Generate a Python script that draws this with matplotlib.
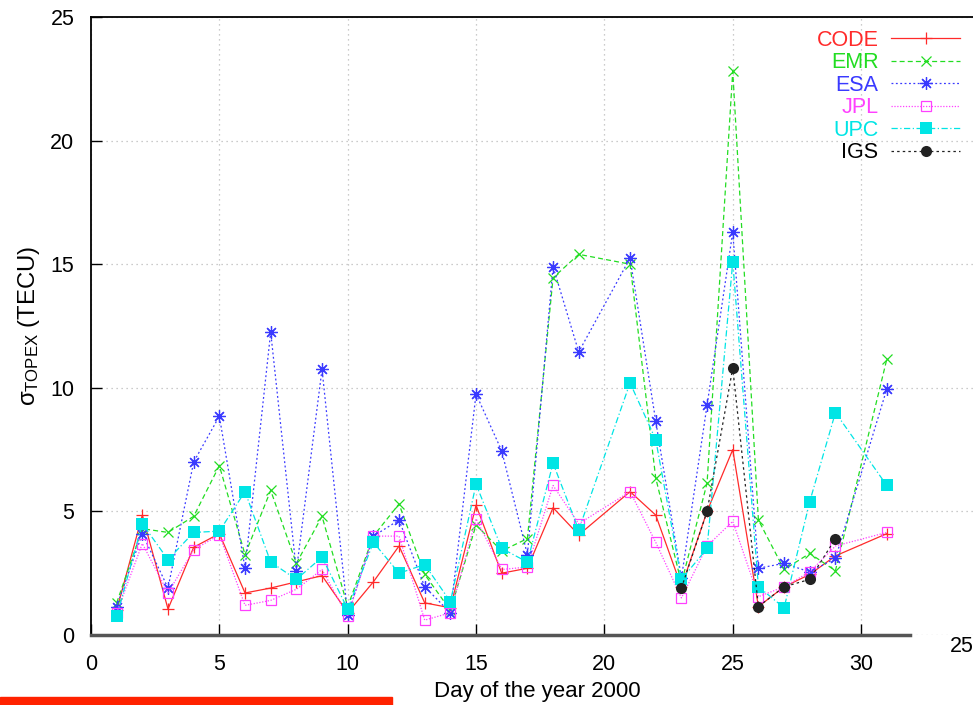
import matplotlib
matplotlib.use("Agg")
import matplotlib.pyplot as plt
from matplotlib.patches import Rectangle

plt.rcParams['font.family'] = ['Liberation Sans', 'DejaVu Sans']
plt.rcParams['mathtext.fontset'] = 'custom'
plt.rcParams['mathtext.rm'] = 'Liberation Sans'
plt.rcParams['mathtext.it'] = 'Liberation Sans'

# -------------------------------------
# Data
# -------------------------------------
days = [1, 2, 3, 4, 5, 6, 7, 8, 9, 10, 11, 12, 13, 14, 15, 16, 17, 18, 19,
        21, 22, 23, 24, 25, 26, 27, 28, 29, 31]

code = [1.0, 4.85, 1.05, 3.55, 4.1, 1.7, 1.9, 2.15, 2.4, 0.9, 2.15, 3.6, 1.3, 1.1,
        5.25, 2.5, 2.7, 5.15, 4.05, 5.8, 4.85, 1.95, 5.0, 7.5, 1.15, 1.95, 2.45,
        3.2, 4.1]
emr = [1.3, 4.3, 4.15, 4.8, 6.85, 3.25, 5.85, 2.9, 4.8, 1.15, 4.0, 5.3, 2.45, 1.0,
       4.45, 3.4, 3.9, 14.45, 15.4, 15.0, 6.35, 2.1, 6.15, 22.8, 4.65, 2.65, 3.3,
       2.6, 11.15]
esa = [1.15, 4.1, 1.9, 7.0, 8.85, 2.7, 12.25, 2.6, 10.75, 0.8, 4.0, 4.65, 1.95,
       0.9, 9.75, 7.45, 3.25, 14.9, 11.45, 15.25, 8.65, 2.3, 9.3, 16.3, 2.7, 2.9,
       2.55, 3.1, 9.95]
jpl = [0.9, 3.7, 1.7, 3.45, 4.05, 1.2, 1.4, 1.85, 2.65, 0.75, 4.0, 4.0, 0.6, 0.9,
       4.7, 2.65, 2.75, 6.05, 4.5, 5.8, 3.75, 1.5, 3.6, 4.6, 1.55, 1.95, 2.55,
       3.6, 4.15]
upc = [0.75, 4.5, 3.05, 4.15, 4.2, 5.8, 2.95, 2.25, 3.15, 1.05, 3.75, 2.5, 2.85,
       1.35, 6.1, 3.5, 2.95, 6.95, 4.25, 10.2, 7.9, 2.25, 3.5, 15.1, 1.95, 1.1,
       5.4, 9.0, 6.05]

igs_days = [23, 24, 25, 26, 27, 28, 29]
igs = [1.9, 5.0, 10.8, 1.15, 1.95, 2.25, 3.9]

x_ticks = [0, 5, 10, 15, 20, 25, 30]
y_ticks = [0, 5, 10, 15, 20, 25]

# -------------------------------------
# Figure
# -------------------------------------
W, H = 973, 705
fig = plt.figure(figsize=(W / 100, H / 100), dpi=100)

# axes box: left 91 px, top 17 px, bottom 635 px, right runs past the edge
left, right, top, bottom = 91, 1000, 17, 635
ax = fig.add_axes([left / W, 1 - bottom / H, (right - left) / W, (bottom - top) / H])

px_per_day = 25.67
ax.set_xlim(0, (right - left) / px_per_day)
ax.set_ylim(0, 25)

lw = 0.9
ax.plot(days, code, color='#ff2a2a', lw=lw, ls='-', marker='+', ms=9, mew=0.9,
        label='CODE', clip_on=False)
ax.plot(days, emr, color='#22dd22', lw=lw, ls=(0, (4, 2.5)), marker='x', ms=7,
        mew=0.9, label='EMR', clip_on=False)
ax.plot(days, esa, color='#3a3aff', lw=lw, ls=(0, (1.5, 2)), marker=(8, 2, 0),
        ms=9, mew=0.9, label='ESA', clip_on=False)
ax.plot(days, jpl, color='#ff40ff', lw=lw, ls=(0, (1, 1.3)), marker='s', ms=7.5,
        mew=0.9, mfc='none', label='JPL', clip_on=False)
ax.plot(days, upc, color='#00e5e5', lw=lw, ls=(0, (5, 2, 1, 2)), marker='s', ms=8,
        mew=0, label='UPC', clip_on=False)
ax.plot(igs_days, igs, color='#222222', lw=lw, ls=(0, (2, 2.5)), marker='o', ms=8,
        mew=0, label='IGS', clip_on=False)

ax.set_xticks(x_ticks)
ax.set_yticks(y_ticks)
ax.tick_params(direction='in', length=8, width=1.0, labelsize=15.5,
               top=False, right=False)
ax.tick_params(axis='x', pad=14)
ax.tick_params(axis='y', pad=12)
ax.grid(True, color='#bbbbbb', ls=(0, (1, 3)), lw=0.9)
ax.set_axisbelow(True)

for s in ['left', 'top']:
    ax.spines[s].set_linewidth(1.3)
ax.spines['bottom'].set_color('#555555')
ax.spines['bottom'].set_linewidth(2.5)
ax.spines['bottom'].set_bounds(0, 31.9)
ax.spines['right'].set_visible(False)

ax.set_xlabel('Day of the year 2000', fontsize=16)
ax.xaxis.set_label_coords((537 - left) / (right - left), -0.075)
ax.set_ylabel(r'$\sigma_{\mathrm{TOPEX}}$ (TECU)', fontsize=17.2)
ax.yaxis.set_label_coords(-0.054, 0.5)

leg = ax.legend(loc='upper right', bbox_to_anchor=(971 / W, 1 - 19 / H),
                bbox_transform=fig.transFigure, frameon=False, markerfirst=False,
                fontsize=15.5, handlelength=3.2, handletextpad=0.6,
                labelspacing=0.07, borderpad=0)
for t, c in zip(leg.get_texts(), ['#ff2a2a', '#22dd22', '#3a3aff', '#ff40ff',
                                  '#00e5e5', '#000000']):
    t.set_color(c)

# stray label at the lower right edge and red bar at the bottom
fig.text(950 / W, 1 - 646 / H, '25', fontsize=15.5, va='center', ha='left')
fig.patches.append(Rectangle((0, 0), 392 / W, 8 / H, transform=fig.transFigure,
                             color='#ff2200', zorder=5))

fig.savefig('out.png', dpi=100)
